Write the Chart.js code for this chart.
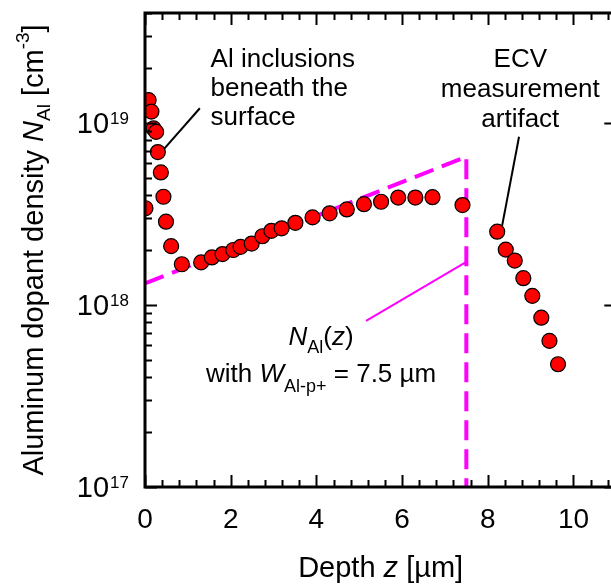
<!DOCTYPE html>
<html>
<head>
<meta charset="utf-8">
<script src="https://cdn.jsdelivr.net/npm/chart.js@4/dist/chart.umd.min.js"></script>
<style>
html, body { margin: 0; padding: 0; background: #fff; overflow: hidden; }
canvas { display: block; }
</style>
</head>
<body>
<canvas id="dopantChart" width="625" height="587"></canvas>
<script>
// measured ECV profile: depth [µm] and Al density [cm^-3]
var depth = [0.01, 0.085, 0.15, 0.2, 0.26, 0.3, 0.37, 0.43, 0.49, 0.61, 0.86,
  1.31, 1.56, 1.81, 2.06, 2.23, 2.49, 2.74, 2.95, 3.19, 3.51, 3.91, 4.31, 4.71,
  5.11, 5.51, 5.91, 6.31, 6.71, 7.41, 8.22, 8.42, 8.63, 8.83, 9.04, 9.25, 9.44, 9.64];
var density = [3.39e18, 1.33e19, 1.15e19, 9.3e18, 8.9e18, 6.9e18, 5.33e18, 3.92e18, 2.86e18, 2.1e18, 1.67e18,
  1.71e18, 1.82e18, 1.9e18, 2.0e18, 2.08e18, 2.17e18, 2.38e18, 2.55e18, 2.63e18, 2.82e18, 3.02e18, 3.18e18, 3.34e18,
  3.57e18, 3.68e18, 3.88e18, 3.88e18, 3.9e18, 3.53e18, 2.52e18, 2.01e18, 1.75e18, 1.40e18, 1.12e18, 8.5e17, 6.34e17, 4.72e17];

// model N_Al(z) with W = 7.5 µm
var modelDepth = [0, 7.5, 7.5];
var modelDensity = [1.31e18, 6.5e18, 1e17];

// leader lines for the labels
var modelLeaderDepth = [5.16, 7.5];
var modelLeaderDensity = [8.17e17, 1.72e18];
var inclusionLeaderDepth = [1.28, 0.456];
var inclusionLeaderDensity = [1.2e19, 7.23e18];
var artifactLeaderDepth = [8.73, 8.33];
var artifactLeaderDensity = [8.37e18, 2.68e18];

var xTickLabels = [0, 2, 4, 6, 8, 10];
var yExponents = [17, 18, 19];

var FONT = "'Liberation Sans', Arial, sans-serif";

function pts(xs, ys) {
  return xs.map(function(x, i) { return {x: x, y: ys[i]}; });
}

// draws text pieces [text, size, italic, dy] one after another
function richText(ctx, parts, x, y, align) {
  var total = 0;
  parts.forEach(function(p) {
    ctx.font = (p[2] ? 'italic ' : '') + p[1] + 'px ' + FONT;
    total += ctx.measureText(p[0]).width;
  });
  var cx = align === 'center' ? x - total / 2 : (align === 'right' ? x - total : x);
  ctx.textAlign = 'left';
  parts.forEach(function(p) {
    ctx.font = (p[2] ? 'italic ' : '') + p[1] + 'px ' + FONT;
    ctx.fillText(p[0], cx, y + (p[3] || 0));
    cx += ctx.measureText(p[0]).width;
  });
}

var framePlugin = {
  id: 'frame',
  afterDatasetsDraw: function(chart) {
    var ctx = chart.ctx, a = chart.chartArea;
    var xs = chart.scales.x, ys = chart.scales.y;
    ctx.save();
    ctx.strokeStyle = '#000';
    ctx.fillStyle = '#000';

    // ticks, pointing inward
    ctx.lineWidth = 2;
    ctx.beginPath();
    for (var i = 0; i * 0.4 <= 11; i++) {
      var v = i * 0.4;
      var px = Math.round(xs.getPixelForValue(v)) + 0.5;
      var len = (i % 5 === 0) ? 12 : 7;
      ctx.moveTo(px, a.bottom); ctx.lineTo(px, a.bottom - len);
      ctx.moveTo(px, a.top); ctx.lineTo(px, a.top + len);
    }
    for (var d = 17; d <= 19; d++) {
      for (var m = 1; m <= 9; m++) {
        var val = m * Math.pow(10, d);
        if (val > ys.max * 1.0001) break;
        var py = Math.round(ys.getPixelForValue(val)) + 0.5;
        var l = (m === 1) ? 12 : 7;
        ctx.moveTo(a.left, py); ctx.lineTo(a.left + l, py);
        if (m === 1) { ctx.moveTo(a.right, py); ctx.lineTo(a.right - l, py); }
      }
    }
    ctx.stroke();

    // frame
    ctx.lineWidth = 3;
    ctx.strokeRect(a.left, a.top, a.right - a.left, a.bottom - a.top);

    // x tick labels
    ctx.textBaseline = 'alphabetic';
    ctx.textAlign = 'center';
    ctx.font = '28px ' + FONT;
    xTickLabels.forEach(function(t) {
      ctx.fillText(String(t), xs.getPixelForValue(t), 528);
    });

    // y tick labels 10^n
    yExponents.forEach(function(e) {
      var py = ys.getPixelForValue(Math.pow(10, e));
      ctx.font = '17px ' + FONT;
      var supW = ctx.measureText(String(e)).width;
      ctx.textAlign = 'right';
      ctx.fillText(String(e), 129, py + 1);
      ctx.font = '29px ' + FONT;
      ctx.fillText('10', 129 - supW - 1, py + 10);
    });

    // axis titles
    ctx.textAlign = 'left';
    richText(ctx, [['Depth ', 29], ['z', 29, true], [' [µm]', 29]], (a.left + a.right) / 2, 577, 'center');

    ctx.save();
    ctx.translate(43, (a.top + a.bottom) / 2);
    ctx.rotate(-Math.PI / 2);
    richText(ctx, [['Aluminum dopant density ', 29], ['N', 29, true], ['Al', 19, false, 7],
      [' [cm', 29], ['-3', 19, false, -14], [']', 29]], 0, 0, 'center');
    ctx.restore();

    // annotations anchored to data coordinates
    ctx.font = '26px ' + FONT;
    ctx.textAlign = 'left';
    var ax = xs.getPixelForValue(1.53), ay = ys.getPixelForValue(2.02e19);
    ctx.fillText('Al inclusions', ax, ay);
    ctx.fillText('beneath the', ax, ay + 29);
    ctx.fillText('surface', ax, ay + 58);

    ctx.textAlign = 'center';
    var ex = xs.getPixelForValue(8.76);
    ctx.fillText('ECV', ex, ay);
    ctx.fillText('measurement', ex, ay + 30);
    ctx.fillText('artifact', ex, ay + 60);

    var nx = xs.getPixelForValue(4.11), ny = ys.getPixelForValue(6.0e17);
    richText(ctx, [['N', 26, true], ['Al', 18, false, 8], ['(', 26], ['z', 26, true], [')', 26]], nx, ny, 'center');
    richText(ctx, [['with ', 26], ['W', 26, true], ['Al-p+', 18, false, 10], [' = 7.5 µm', 26]], nx, ny + 37, 'center');

    ctx.restore();
  }
};

new Chart(document.getElementById('dopantChart'), {
  type: 'scatter',
  data: {
    datasets: [
      {
        label: 'ECV data',
        data: pts(depth, density),
        backgroundColor: '#ff0000',
        borderColor: '#000',
        borderWidth: 1.2,
        pointRadius: 7.5,
        order: 0
      },
      {
        label: 'model',
        data: pts(modelDepth, modelDensity),
        showLine: true,
        borderColor: '#ff00ff',
        borderWidth: 4,
        borderDash: [20, 9],
        pointRadius: 0,
        order: 1
      },
      {
        label: 'model leader',
        data: pts(modelLeaderDepth, modelLeaderDensity),
        showLine: true,
        borderColor: '#ff00ff',
        borderWidth: 2,
        pointRadius: 0,
        order: 2
      },
      {
        label: 'inclusion leader',
        data: pts(inclusionLeaderDepth, inclusionLeaderDensity),
        showLine: true,
        borderColor: '#000',
        borderWidth: 2,
        pointRadius: 0,
        order: 3
      },
      {
        label: 'artifact leader',
        data: pts(artifactLeaderDepth, artifactLeaderDensity),
        showLine: true,
        borderColor: '#000',
        borderWidth: 2,
        pointRadius: 0,
        order: 4
      }
    ]
  },
  options: {
    responsive: false,
    animation: false,
    devicePixelRatio: 1,
    layout: { padding: { left: 145, top: 13, right: 5, bottom: 100 } },
    plugins: { legend: { display: false }, tooltip: { enabled: false } },
    scales: {
      x: { type: 'linear', min: 0, max: 11, display: false },
      y: { type: 'logarithmic', min: 1e17, max: 4e19, display: false }
    }
  },
  plugins: [framePlugin]
});
</script>
</body>
</html>
